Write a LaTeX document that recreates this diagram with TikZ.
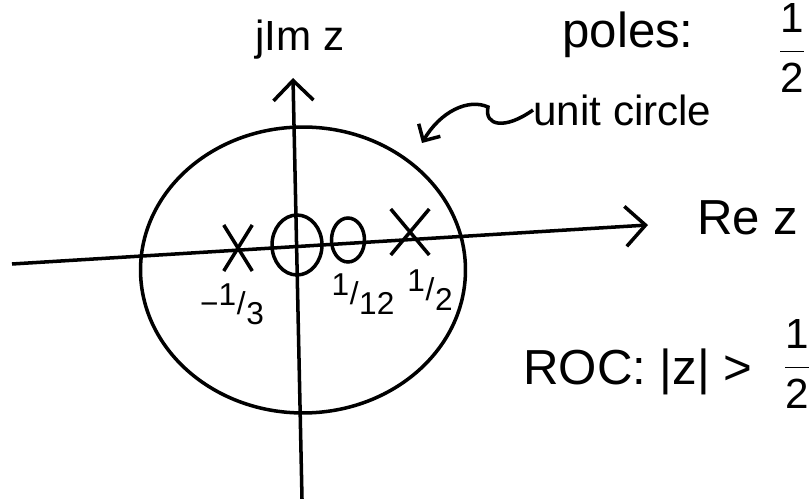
\documentclass[tikz,border=0pt]{standalone}
\usepackage{fontspec}
\setmainfont{Liberation Sans}
\usetikzlibrary{positioning, arrows.meta, shapes.geometric, shapes.misc}

% slanted and stacked fractions in the text font
\newcommand{\slfrac}[2]{\raisebox{0.55ex}{#1}\kern0.02em/\kern0.02em\raisebox{-0.6ex}{#2}}
\newcommand{\stfrac}[2]{$\displaystyle\frac{\mbox{#1}}{\mbox{#2}}$}

\begin{document}
\begin{tikzpicture}[x=0.02cm, y=-0.02cm,
  axis/.style={line width=2pt, -{Straight Barb[length=4mm, width=8mm]}},
  ucirc/.style={ellipse, draw, line width=2pt, inner sep=0pt,
                minimum width=6.5cm, minimum height=5.72cm},
  pole/.style={cross out, draw, line width=2pt, inner sep=0pt},
  zero/.style={ellipse, draw, line width=2pt, inner sep=0pt},
  big/.style={inner sep=0pt, font=\fontsize{28}{30}\selectfont},
  mid/.style={inner sep=0pt, font=\fontsize{24}{26}\selectfont},
  lbl/.style={inner sep=0pt, font=\fontsize{18}{20}\selectfont},
  note/.style={line width=2pt, -{Straight Barb[length=2.5mm, width=5mm]}}
]
\useasboundingbox (0,0) rectangle (810,499);

% Axes
\coordinate (hl) at (12,264);
\coordinate (hr) at (648,225);
\coordinate (vb) at (302,499);
\coordinate (vt) at (293,78);
\draw[axis] (hl) -- (hr);
\draw[axis] (vb) -- (vt);

% Unit circle
\node[ucirc] (uc) at (303,270) {};

% Poles and zeros
\node[pole, minimum width=0.5cm, minimum height=0.85cm] (p1) at (238,248) {};
\node[pole, minimum width=0.7cm, minimum height=0.85cm] (p2) at (410,232) {};
\node[zero, minimum width=1.0cm, minimum height=1.2cm] (z1) at (297,245) {};
\node[zero, minimum width=0.66cm, minimum height=0.88cm] (z2) at (348,240) {};

% Labels under the axis
\node[lbl] (p1lbl) at (232,304) {−\slfrac{1}{3}};
\node[lbl] (z2lbl) at (363,294) {\slfrac{1}{12}};
\node[lbl] (p2lbl) at (430,290) {\slfrac{1}{2}};

% Axis names
\node[mid] (imlbl) at (300,40) {jIm z};
\node[big] (relbl) at (748,218) {Re z};

% Notes
\node[big] (poles) at (628,35) {poles:};
\node[mid] (polesfr) at (792,48) {\stfrac{1}{2}};
\node[mid, anchor=west] (uclbl) at (533,110) {unit circle};
\node[big, anchor=west] (roc) at (523,372) {ROC: |z| >};
\node[mid] (rocfr) at (797,364) {\stfrac{1}{2}};

% Arrow to the circle
\coordinate (uctip) at (422,143);
\draw[note] (uclbl.west) .. controls (505,130) and (484,126) .. (488,107)
  .. controls (468,98) and (440,112) .. (uctip);

\end{tikzpicture}
\end{document}
